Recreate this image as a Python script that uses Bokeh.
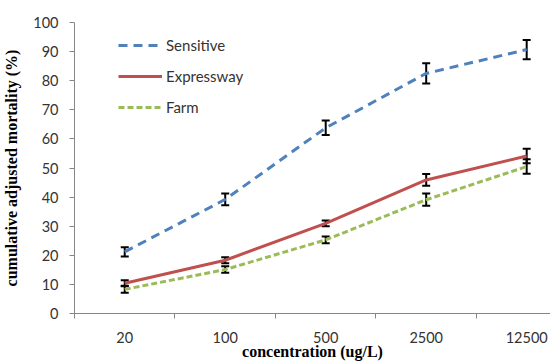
from bokeh.plotting import figure
from bokeh.models import ColumnDataSource, Whisker, TeeHead, FixedTicker, Legend, LegendItem, Range1d
from bokeh.embed import file_html
from bokeh.resources import INLINE

categories = ["20", "100", "500", "2500", "12500"]
sensitive = [21.2, 39.2, 63.8, 82.5, 90.7]
sensitive_err = [1.6, 2.0, 2.5, 3.5, 3.3]
expressway = [10.4, 18.3, 31.0, 45.9, 54.1]
expressway_err = [1.0, 1.0, 1.0, 2.0, 2.5]
farm = [8.3, 15.1, 25.3, 39.1, 50.5]
farm_err = [1.2, 1.1, 1.2, 2.1, 2.5]

xs = list(range(len(categories)))

p = figure(width=550, height=362, output_backend="svg", toolbar_location=None,
           x_range=Range1d(-0.5, 4.237), y_range=Range1d(0, 100),
           min_border_left=73, min_border_right=0, min_border_top=22, min_border_bottom=48)
p.outline_line_color = None
p.grid.visible = False
p.background_fill_color = "white"

colors = {"s": "#4F81BD", "e": "#C0504D", "f": "#9BBB59"}

rs = p.line(xs, sensitive, line_color=colors["s"], line_width=3, line_dash="9 6")
re_ = p.line(xs, expressway, line_color=colors["e"], line_width=3)
rf = p.line(xs, farm, line_color=colors["f"], line_width=3, line_dash="6 3")

for vals, errs in [(sensitive, sensitive_err), (expressway, expressway_err), (farm, farm_err)]:
    src = ColumnDataSource(dict(x=xs,
                                upper=[v + e for v, e in zip(vals, errs)],
                                lower=[v - e for v, e in zip(vals, errs)]))
    w = Whisker(source=src, base="x", upper="upper", lower="lower",
                line_color="black", line_width=2,
                upper_head=TeeHead(size=8, line_color="black", line_width=2),
                lower_head=TeeHead(size=8, line_color="black", line_width=2))
    p.add_layout(w)

# x axis
xa = p.xaxis[0]
xa.ticker = FixedTicker(ticks=xs, minor_ticks=[-0.5, 0.5, 1.5, 2.5, 3.5])
xa.major_label_overrides = {i: c for i, c in enumerate(categories)}
xa.major_tick_out = 0
xa.major_tick_in = 0
xa.minor_tick_out = 5
xa.minor_tick_in = 0
xa.minor_tick_line_color = "#868686"
xa.axis_line_color = "#868686"
xa.major_label_standoff = 13
xa.major_label_text_font = "Lato"
xa.major_label_text_font_size = "14.5px"
xa.major_label_text_color = "#333333"
xa.axis_label = "concentration (ug/L)"
xa.axis_label_text_font = "Liberation Serif"
xa.axis_label_text_font_style = "bold"
xa.axis_label_text_font_size = "16px"
xa.axis_label_standoff = -3
xa.axis_label_text_color = "black"

ya = p.yaxis[0]
ya.ticker = FixedTicker(ticks=list(range(0, 101, 10)), minor_ticks=[])
ya.major_tick_out = 5
ya.major_tick_in = 0
ya.major_tick_line_color = "#868686"
ya.axis_line_color = "#868686"
ya.major_label_standoff = 11
ya.major_label_text_font = "Lato"
ya.major_label_text_font_size = "14.5px"
ya.major_label_text_color = "#333333"
ya.axis_label = "cumulative adjusted mortality (%)"
ya.axis_label_text_font = "Liberation Serif"
ya.axis_label_text_font_style = "bold"
ya.axis_label_text_font_size = "16px"
ya.axis_label_standoff = 10
ya.axis_label_text_color = "black"

legend = Legend(items=[LegendItem(label="Sensitive", renderers=[rs]),
                       LegendItem(label="Expressway", renderers=[re_]),
                       LegendItem(label="Farm", renderers=[rf])],
                location=(44, 196), padding=0, margin=0, spacing=11,
                glyph_width=44, glyph_height=20, label_standoff=4,
                border_line_alpha=0, background_fill_alpha=0,
                label_text_font="Lato", label_text_font_size="15px",
                label_text_color="#333333")
p.add_layout(legend)

open("out.html", "w").write(file_html(p, INLINE))
